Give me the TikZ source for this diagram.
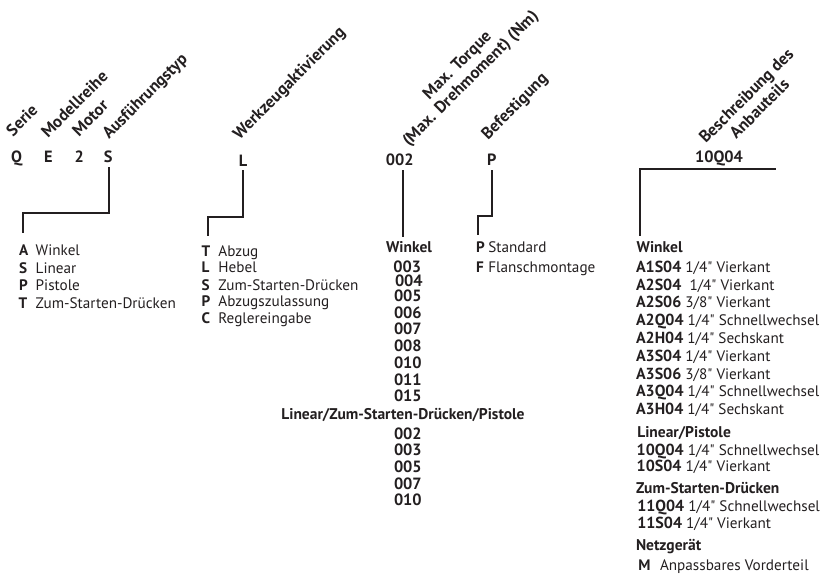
\documentclass[tikz,border=0pt]{standalone}
\usepackage{fontspec}
\setmainfont{PT Sans}[Ligatures=TeXOff]
\definecolor{ink}{RGB}{35,31,32}
% bold key letter followed by its meaning, in a box of fixed width
\newcommand\keyed[3][16.7pt]{\makebox[#1][l]{\textbf{#2}}#3}
% bold part number inside a description line
\newcommand\partno[1]{{\fontsize{16}{18}\selectfont\bfseries #1}}
\begin{document}
\begin{tikzpicture}[x=1pt,y=-1pt,
  every node/.style={inner sep=0pt, outer sep=0pt, text=ink},
  code/.style={font=\bfseries\fontsize{16.3}{18}\selectfont, anchor=base},
  head/.style={font=\bfseries\fontsize{16.7}{18}\selectfont, rotate=45, anchor=base west},
  headtwo/.style={font=\bfseries\fontsize{16.7}{18.5}\selectfont, rotate=45, align=center},
  item/.style={font=\fontsize{15.2}{17}\selectfont, anchor=base west},
  bitem/.style={font=\bfseries\fontsize{15.5}{17}\selectfont, anchor=base west},
  num/.style={font=\bfseries\fontsize{16.3}{18}\selectfont, anchor=base west},
  link/.style={draw=ink, line width=2pt},
]
\useasboundingbox (0,0) rectangle (821,584);

% ---- code characters of the type designation
\node[code] (cQ) at (16.7,162.7) {Q};
\node[code] (cE) at (48.3,162.7) {E};
\node[code] (c2) at (79.3,162.7) {2};
\node[code] (cS) at (108.3,162.7) {S};
\node[code] (cL) at (243,166) {L};
\node[code] (cT) at (399.7,165) {002};
\node[code] (cP) at (491.8,165) {P};
\node[code] (cB) at (719,162.7) {10Q04};

% ---- slanted headings
\node[head] (hSerie) at (13,137) {Serie};
\node[head] (hModell) at (48,138.5) {Modellreihe};
\node[head] (hMotor) at (79,137) {Motor};
\node[head] (hAusf) at (109,139.5) {Ausführungstyp};
\node[head] (hWerk) at (239.5,140) {Werkzeugaktivierung};
\node[headtwo] (hTorque) at (464.5,72.5) {Max. Torque\\(Max. Drehmoment) (Nm)};
\node[head] (hBef) at (488,140) {Befestigung};
\node[headtwo] (hBesch) at (752.7,102.1) {Beschreibung des\\Anbauteils};

% ---- Ausführungstyp
\node[item] (a1) at (19,255) {\keyed{A}{Winkel}};
\node[item] (a2) at (19,273.3) {\keyed{S}{Linear}};
\node[item] (a3) at (19,290) {\keyed{P}{Pistole}};
\node[item] (a4) at (18.5,308.3) {\keyed[17.2pt]{T}{Zum-Starten-Drücken}};

% ---- Werkzeugaktivierung
\node[item] (w1) at (201.7,256) {\keyed{T}{Abzug}};
\node[item] (w2) at (201.7,272.7) {\keyed{L}{Hebel}};
\node[item] (w3) at (201.7,290) {\keyed{S}{Zum-Starten-Drücken}};
\node[item] (w4) at (201.7,306) {\keyed{P}{Abzugszulassung}};
\node[item] (w5) at (201.7,323) {\keyed{C}{Reglereingabe}};

% ---- torque values
\node[bitem, anchor=base] (tWink) at (409,252.7) {Winkel};
\node[num] (t1) at (393.3,272) {003};
\node[num] (t2) at (395,286) {004};
\node[num] (t3) at (394,301.7) {005};
\node[num] (t4) at (394,318.3) {006};
\node[num] (t5) at (394,334.3) {007};
\node[num] (t6) at (394,351.7) {008};
\node[num] (t7) at (394,368.3) {010};
\node[num] (t8) at (394,385) {011};
\node[num] (t9) at (394,401.7) {015};
\node[bitem, anchor=base] (tLin) at (403,419.3) {Linear/Zum-Starten-Drücken/Pistole};
\node[num] (u1) at (394,439.3) {002};
\node[num] (u2) at (394,455.7) {003};
\node[num] (u3) at (394,472.3) {005};
\node[num] (u4) at (394,489.3) {007};
\node[num] (u5) at (394,505.7) {010};

% ---- Befestigung
\node[item] (b1) at (476,252.7) {\keyed[12.3pt]{P}{Standard}};
\node[item] (b2) at (476,272.7) {\keyed[12.3pt]{F}{Flanschmontage}};

% ---- Beschreibung des Anbauteils
\node[bitem] (rWink) at (636.7,252) {Winkel};
\node[item] (r1) at (636,272.3) {\partno{A1S04} 1/4" Vierkant};
\node[item] (r2) at (636,290.1) {\partno{A2S04}\ \ 1/4" Vierkant};
\node[item] (r3) at (636,307.9) {\partno{A2S06} 3/8" Vierkant};
\node[item] (r4) at (636,325.7) {\partno{A2Q04} 1/4" Schnellwechsel};
\node[item] (r5) at (636,343.5) {\partno{A2H04} 1/4" Sechskant};
\node[item] (r6) at (636,361.3) {\partno{A3S04} 1/4" Vierkant};
\node[item] (r7) at (636,379.1) {\partno{A3S06} 3/8" Vierkant};
\node[item] (r8) at (636,396.9) {\partno{A3Q04} 1/4" Schnellwechsel};
\node[item] (r9) at (636,414.7) {\partno{A3H04} 1/4" Sechskant};
\node[bitem] (rLin) at (637.3,437.3) {Linear/Pistole};
\node[item] (s1) at (636.7,455) {\partno{10Q04} 1/4" Schnellwechsel};
\node[item] (s2) at (636.7,471.7) {\partno{10S04} 1/4" Vierkant};
\node[bitem] (rZum) at (636,493.3) {Zum-Starten-Drücken};
\node[item] (s3) at (637.3,511.7) {\partno{11Q04} 1/4" Schnellwechsel};
\node[item] (s4) at (637.3,528.3) {\partno{11S04} 1/4" Vierkant};
\node[bitem] (rNetz) at (636,550) {Netzgerät};
\node[item] (s5) at (638.3,570) {\keyed[21.7pt]{M}{Anpassbares Vorderteil}};

% ---- leader lines from the code characters to their lists
\coordinate (jS) at (109.3,167);   \coordinate (eS) at (22.7,233);
\coordinate (jL) at (243.3,170);   \coordinate (eL) at (207.7,236);
\coordinate (jT) at (403.3,170);   \coordinate (eT) at (403.3,237);
\coordinate (jP) at (491.7,170);   \coordinate (eP) at (478.3,235);
\coordinate (jB) at (775.7,169.3); \coordinate (eB) at (640,236);

\draw[link] (jS) -- ++(0,46) -| (eS);
\draw[link] (jL) -- ++(0,47) -| (eL);
\draw[link] (jT) -- (eT);
\draw[link] (jP) -- ++(0,46) -| (eP);
\draw[link] (jB) -| (eB);
\end{tikzpicture}
\end{document}
